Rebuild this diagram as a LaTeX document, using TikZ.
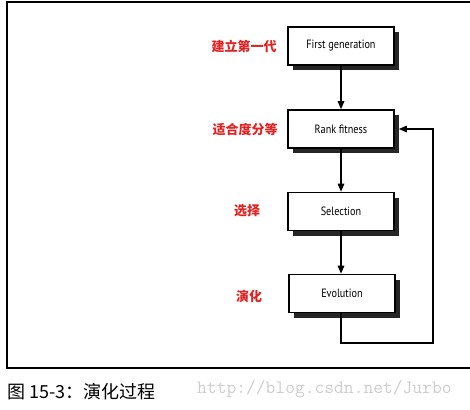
\documentclass[tikz,border=0pt]{standalone}
\usepackage{fontspec}
\newfontfamily\cjk{Noto Sans CJK SC}
\newfontfamily\cjkbold{Noto Sans CJK SC}[BoldFont=*, FakeBold=0]
\newfontfamily\boxfont{PT Sans}[FakeStretch=0.85]
\usetikzlibrary{arrows.meta,shadows}
\definecolor{lblred}{RGB}{225,35,35}
\definecolor{wmgray}{RGB}{205,205,205}
\tikzset{
  stepbox/.style={draw=black, line width=1.6pt, fill=white, minimum width=106pt, minimum height=38pt,
    inner sep=0pt, font=\boxfont\fontsize{12}{14}\selectfont,
    drop shadow={shadow xshift=5pt, shadow yshift=-5pt, fill=black!85, opacity=1}},
  lbl/.style={text=lblred, font=\cjk\bfseries\fontsize{13}{15}\selectfont, anchor=center},
  flow/.style={line width=1.4pt, -{Triangle[length=8pt,width=6.5pt]}},
  frameline/.style={line width=1.2pt, black}
}
\begin{document}
\begin{tikzpicture}[x=1pt,y=-1pt]
\useasboundingbox (0,0) rectangle (470,409);
% frame
\coordinate (ftr) at (470,2);
\coordinate (ftl) at (7,2);
\coordinate (fbl) at (7,368);
\coordinate (fbr) at (470,368);
\draw[frameline] (ftr) -- (ftl) -- (fbl) -- (fbr);
% boxes
\node[stepbox] (first) at (341,46) {First generation};
\node[stepbox] (rank) at (341,129) {Rank fitness};
\node[stepbox] (sel) at (341,211.5) {Selection};
\node[stepbox] (evo) at (342,293.5) {Evolution};
% labels
\node[lbl] (l1) at (244,46) {建立第一代};
\node[lbl] (l2) at (245,130) {适合度分等};
\node[lbl] (l3) at (247,211) {选择};
\node[lbl] (l4) at (249,296) {演化};
% arrows
\draw[flow] (first.south) -- (rank.north);
\draw[flow] (rank.south) -- (sel.north);
\draw[flow] (sel.south) -- (evo.north -| sel.south);
\coordinate (lb) at (341,343);
\coordinate (rb) at (433,343);
\coordinate (rt) at (433,129);
\draw[line width=1.4pt, -{Triangle[length=8pt,width=6.5pt]}] (evo.south -| lb) -- (lb) -- (rb) -- (rt) -- ([xshift=4pt]rank.east);
% caption
\node[anchor=west, font=\cjk\fontsize{18}{20}\selectfont, inner sep=0pt] (cap) at (7,392) {图 15-3：演化过程};
\node[anchor=west, text=wmgray, font=\ttfamily\fontsize{19}{21}\selectfont, inner sep=0pt] (wm) at (197,389) {http://blog.csdn.net/Jurbo};
\end{tikzpicture}
\end{document}
